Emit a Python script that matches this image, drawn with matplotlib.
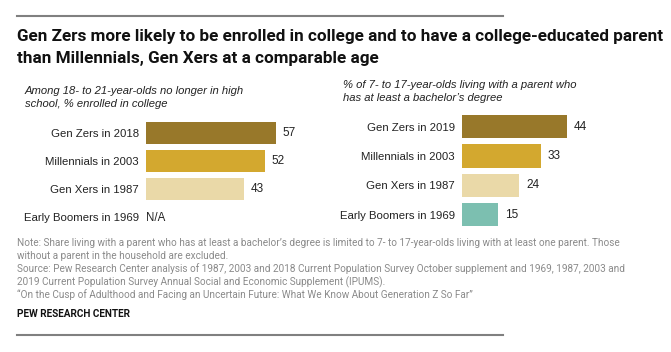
import matplotlib.pyplot as plt
from matplotlib import font_manager

# data
groups_left = ['Gen Zers in 2018', 'Millennials in 2003', 'Gen Xers in 1987', 'Early Boomers in 1969']
values_left = [57, 52, 43, None]
groups_right = ['Gen Zers in 2019', 'Millennials in 2003', 'Gen Xers in 1987', 'Early Boomers in 1969']
values_right = [44, 33, 24, 15]
colors = ['#98782a', '#d3a82f', '#ead9a8', '#7cbfb0']

names = {f.name for f in font_manager.fontManager.ttflist}
narrow = 'Liberation Sans Narrow' if 'Liberation Sans Narrow' in names else 'Roboto'
body = 'Liberation Sans'

W, H = 671, 352
fig = plt.figure(figsize=(W / 100, H / 100), dpi=100)


def fx(px):
    return px / W


def fy(py):
    return 1 - py / H


# top and bottom rules
fig.add_artist(plt.Line2D([fx(17), fx(503)], [fy(16), fy(16)], color='#808080', lw=1.5))
fig.add_artist(plt.Line2D([fx(17), fx(503)], [fy(335), fy(335)], color='#808080', lw=1.5))

t1 = fig.text(fx(17), fy(37), 'Gen Zers more likely to be enrolled in college and to have a college-educated parent',
              fontsize=12, fontweight='bold', family=narrow, va='center', color='#111111')
t2 = fig.text(fx(17), fy(58), 'than Millennials, Gen Xers at a comparable age',
              fontsize=12, fontweight='bold', family=narrow, va='center', color='#111111')
# fit the first title line to the reference width
r = fig.canvas.get_renderer()
w = t1.get_window_extent(r).width
size = 12 * 643 / w
t1.set_fontsize(size)
t2.set_fontsize(size)

fig.text(fx(25), fy(91), 'Among 18- to 21-year-olds no longer in high', fontsize=8.1, style='italic',
         family=body, va='center', color='#222222')
fig.text(fx(25), fy(104), 'school, % enrolled in college', fontsize=8.1, style='italic',
         family=body, va='center', color='#222222')
fig.text(fx(343), fy(85), '% of 7- to 17-year-olds living with a parent who', fontsize=8.1, style='italic',
         family=body, va='center', color='#222222')
fig.text(fx(343), fy(98), 'has at least a bachelor\u2019s degree', fontsize=8.1, style='italic',
         family=body, va='center', color='#222222')


def panel(x0, top, pitch, scale, groups, values):
    h = pitch * 4
    width = 180
    ax = fig.add_axes([fx(x0), fy(top + h), width / W, h / H])
    ax.set_xlim(0, width / scale)
    ax.set_ylim(3.5, -0.5)
    for i, v in enumerate(values):
        if v is None:
            ax.text(0, i + 0.05, 'N/A', va='center', ha='left', fontsize=8.3, family=body, color='#222222')
            continue
        ax.barh(i, v, height=0.79, color=colors[i])
        ax.text(v + 7 / scale, i, str(v), va='center', ha='left', fontsize=8.5, family=body, color='#222222')
    ax.set_yticks(range(4))
    ax.set_yticklabels(groups, fontsize=8.2, family=body, color='#222222')
    ax.tick_params(axis='y', length=0, pad=5)
    ax.set_xticks([])
    for s in ax.spines.values():
        s.set_visible(False)
    ax.patch.set_visible(False)
    return ax


panel(146, 119, 28, 2.28, groups_left, values_left)
panel(462, 112, 29.3, 2.386, groups_right, values_right)

notes = [
    'Note: Share living with a parent who has at least a bachelor\u2019s degree is limited to 7- to 17-year-olds living with at least one parent. Those',
    'without a parent in the household are excluded.',
    'Source: Pew Research Center analysis of 1987, 2003 and 2018 Current Population Survey October supplement and 1969, 1987, 2003 and',
    '2019 Current Population Survey Annual Social and Economic Supplement (IPUMS).',
    '\u201cOn the Cusp of Adulthood and Facing an Uncertain Future: What We Know About Generation Z So Far\u201d',
]
for k, line in enumerate(notes):
    fig.text(fx(17), fy(243 + 13 * k), line, fontsize=7.2, family=narrow, va='center', color='#8a8a8a')

fig.text(fx(17), fy(314), 'PEW RESEARCH CENTER', fontsize=7.2, fontweight='bold', family=narrow,
         va='center', color='#111111')

fig.savefig('out.png', dpi=100)
